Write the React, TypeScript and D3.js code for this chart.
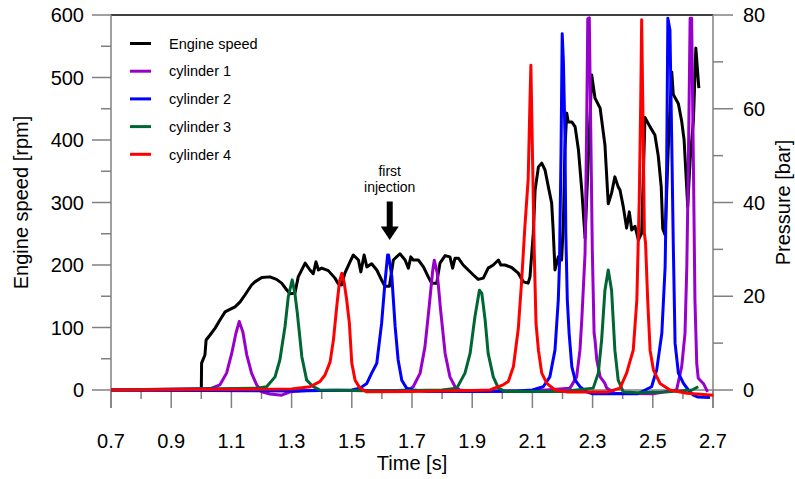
import React from "react";
import * as d3 from "d3";

const engineSpeed: [number, number][] = [
  [0.7, 0], [1.0, 0], [1.001, 43], [1.012, 56], [1.016, 80], [1.029, 88], [1.046, 99], [1.062, 112], [1.079, 125],
  [1.095, 129], [1.112, 133], [1.129, 141], [1.145, 152], [1.167, 168], [1.178, 173], [1.201, 180], [1.228, 181],
  [1.25, 177], [1.267, 171], [1.284, 160], [1.295, 154], [1.311, 155], [1.322, 181], [1.345, 203], [1.361, 192],
  [1.372, 186], [1.381, 205], [1.389, 192], [1.4, 195], [1.422, 191], [1.444, 179], [1.455, 170], [1.466, 168],
  [1.477, 187], [1.494, 205], [1.505, 216], [1.522, 208], [1.53, 189], [1.541, 216], [1.55, 197], [1.566, 202],
  [1.583, 192], [1.599, 176], [1.61, 166], [1.625, 166], [1.638, 208], [1.66, 218], [1.677, 208], [1.688, 195],
  [1.696, 213], [1.704, 208], [1.721, 208], [1.738, 197], [1.754, 181], [1.765, 171], [1.782, 171], [1.793, 203],
  [1.81, 215], [1.826, 213], [1.835, 195], [1.843, 211], [1.854, 211], [1.87, 200], [1.887, 192], [1.904, 184],
  [1.92, 177], [1.937, 179], [1.953, 195], [1.97, 200], [1.987, 208], [1.995, 200], [2.009, 200], [2.031, 196],
  [2.053, 187], [2.07, 173], [2.086, 171], [2.092, 181], [2.103, 251], [2.109, 320], [2.12, 357], [2.131, 363],
  [2.142, 352], [2.153, 325], [2.164, 299], [2.169, 256], [2.175, 192], [2.186, 213], [2.197, 208], [2.203, 267],
  [2.208, 384], [2.214, 443], [2.219, 429], [2.231, 429], [2.242, 421], [2.253, 384], [2.264, 320], [2.275, 243],
  [2.297, 504], [2.308, 467], [2.325, 451], [2.341, 392], [2.352, 298], [2.363, 315], [2.374, 341], [2.385, 325],
  [2.391, 320], [2.402, 293], [2.413, 259], [2.422, 285], [2.43, 256], [2.441, 262], [2.452, 240], [2.463, 251],
  [2.474, 436], [2.491, 421], [2.507, 408], [2.518, 375], [2.528, 325], [2.533, 258], [2.541, 248], [2.552, 395],
  [2.563, 509], [2.568, 473], [2.585, 458], [2.596, 430], [2.604, 400], [2.613, 320], [2.616, 293], [2.624, 368],
  [2.635, 432], [2.643, 547], [2.653, 483],
];

const cylinder1: [number, number][] = [
  [0.7, 0], [1.03, 0.3], [1.062, 1.1], [1.084, 3.6], [1.101, 7.8], [1.115, 12.1], [1.126, 14.6], [1.138, 12.4],
  [1.151, 7.5], [1.167, 3.6], [1.184, 1.1], [1.201, -0.4], [1.228, -0.85], [1.267, -1.1], [1.295, -0.4], [1.35, -0.1],
  [1.5, -0.1], [1.65, -0.1], [1.688, 0], [1.704, 0.7], [1.727, 3.6], [1.743, 9.2], [1.757, 17.8], [1.769, 25.6],
  [1.774, 27.7], [1.784, 24.9], [1.795, 17.1], [1.81, 7.8], [1.826, 2.8], [1.843, 0.7], [1.859, 0], [1.9, -0.3],
  [2.0, -0.3], [2.1, -0.2], [2.225, 0.4], [2.247, 2.8], [2.258, 8.5], [2.264, 14.9], [2.275, 29.2], [2.28, 54.8],
  [2.284, 79.2], [2.289, 79.4], [2.294, 54.8], [2.299, 29.9], [2.305, 12.1], [2.308, 10.7], [2.314, 6.4],
  [2.325, 2.8], [2.341, 1.4], [2.347, 0.4], [2.374, -0.7], [2.5, -0.8], [2.579, 0], [2.596, 5], [2.607, 12.1],
  [2.613, 26.3], [2.618, 47.6], [2.624, 79.3], [2.629, 79.3], [2.635, 47.6], [2.64, 19.2], [2.646, 5.7],
  [2.651, 2.5], [2.668, 1.4], [2.682, -0.4],
];

const cylinder2: [number, number][] = [
  [0.7, 0], [1.3, -0.2], [1.5, 0], [1.527, 0.4], [1.55, 1.4], [1.566, 3.6], [1.583, 5.7], [1.599, 14.2],
  [1.61, 22.8], [1.619, 28.8], [1.622, 28.8], [1.633, 24.2], [1.644, 13.5], [1.654, 6.4], [1.666, 2.1],
  [1.682, 0.4], [1.704, 0], [1.75, -0.3], [1.9, -0.3], [2.05, -0.2], [2.1, 0], [2.136, 0.7], [2.158, 2.8],
  [2.175, 8.5], [2.186, 19.2], [2.19, 27], [2.195, 50], [2.199, 76], [2.203, 70], [2.208, 54.8], [2.211, 33.4],
  [2.216, 19.2], [2.222, 12.1], [2.231, 5], [2.242, 2.1], [2.258, 0.7], [2.28, -0.4], [2.3, -0.8], [2.45, -0.8],
  [2.496, 0.7], [2.513, 4.3], [2.53, 12.1], [2.541, 26.3], [2.546, 47.6], [2.55, 79.3], [2.557, 76.8],
  [2.563, 52.6], [2.568, 31.3], [2.574, 10], [2.585, 3.6], [2.602, 1.4], [2.618, 0], [2.635, -1.1], [2.65, -1.5],
  [2.69, -1.6],
];

const cylinder3: [number, number][] = [
  [0.7, 0], [1.184, 0.4], [1.217, 0.7], [1.245, 2.8], [1.261, 6.4], [1.278, 13.5], [1.289, 19.9], [1.302, 23.5],
  [1.311, 20.6], [1.319, 16.4], [1.334, 7.1], [1.35, 2.1], [1.372, 0.7], [1.394, 0], [1.6, -0.2], [1.8, 0],
  [1.849, 0.4], [1.876, 3.6], [1.893, 7.8], [1.909, 15.6], [1.924, 21.3], [1.932, 20.6], [1.943, 14.9],
  [1.953, 7.8], [1.97, 2.8], [1.987, 0.4], [2.009, -0.3], [2.2, -0.3], [2.302, 0.4], [2.319, 3.6], [2.33, 10.7],
  [2.341, 21.3], [2.352, 25.6], [2.363, 21.3], [2.374, 8.5], [2.385, 2.1], [2.402, -0.4], [2.45, -0.6],
  [2.55, -0.4], [2.63, 0], [2.651, 0.7],
];

const cylinder4: [number, number][] = [
  [0.7, 0], [1.3, 0.2], [1.361, 0.7], [1.394, 1.8], [1.411, 3.2], [1.428, 6], [1.439, 10.7], [1.45, 17.8],
  [1.459, 23.1], [1.467, 24.9], [1.475, 22.8], [1.483, 19.2], [1.492, 14.2], [1.5, 5.7], [1.511, 2.1],
  [1.527, 0.4], [1.55, -0.4], [1.7, -0.3], [1.9, -0.1], [1.959, 0], [1.987, 0.7], [2.003, 1.1], [2.02, 1.8],
  [2.037, 5], [2.053, 13], [2.064, 23], [2.075, 34.8], [2.086, 45], [2.092, 61.9], [2.095, 69.3], [2.101, 47.6],
  [2.106, 29.9], [2.112, 14.2], [2.12, 8.5], [2.131, 3.6], [2.148, 1.4], [2.175, 0], [2.214, -0.4], [2.35, -0.4],
  [2.391, 0.4], [2.413, 3.6], [2.435, 8.5], [2.447, 19.2], [2.455, 40.5], [2.46, 61.9], [2.463, 79], [2.468, 54.8],
  [2.472, 33.4], [2.476, 31.3], [2.483, 19.2], [2.491, 8.5], [2.502, 4.3], [2.524, 1.4], [2.557, 0], [2.613, -0.7],
  [2.701, -1.1],
];

const seriesNames = ["Engine speed", "cylinder 1", "cylinder 2", "cylinder 3", "cylinder 4"];
const seriesColors = ["#000000", "#9900cc", "#0000ff", "#006633", "#ff0000"];

const timeMajorTicks = [0.7, 0.9, 1.1, 1.3, 1.5, 1.7, 1.9, 2.1, 2.3, 2.5, 2.7];
const timeMinorTicks = [0.8, 1.0, 1.2, 1.4, 1.6, 1.8, 2.0, 2.2, 2.4, 2.6];
const speedMajorTicks = [0, 100, 200, 300, 400, 500, 600];
const speedMinorTicks = [50, 150, 250, 350, 450, 550];
const pressureMajorTicks = [0, 20, 40, 60, 80];
const pressureMinorTicks = [10, 30, 50, 70];

const annotationTime = 1.626;
const annotationLines = ["first", "injection"];

const FONT = "'Liberation Sans', Arial, sans-serif";
const AXIS = "#808080";

export default function App() {
  const W = 795, H = 479;
  const x = d3.scaleLinear().domain([0.7, 2.7]).range([111, 713]);
  const yL = d3.scaleLinear().domain([0, 600]).range([390, 15]);
  const yR = d3.scaleLinear().domain([0, 80]).range([390, 15]);

  const lineL = d3.line<[number, number]>().x((d) => x(d[0])).y((d) => yL(d[1]));
  const lineR = d3.line<[number, number]>().x((d) => x(d[0])).y((d) => yR(d[1]));

  const pressureSeries = [cylinder1, cylinder2, cylinder3, cylinder4];
  const [x0, x1] = x.range();
  const yBottom = 390;

  const ax = x(annotationTime);

  return (
    <svg width={W} height={H} style={{ position: "absolute", left: 0, top: 0, background: "#fff" }} fontFamily={FONT}>
      {/* frame */}
      <line x1={x0} x2={x1} y1={15} y2={15} stroke="#000" strokeWidth={1.5} />
      <line x1={x0} x2={x0} y1={15} y2={408} stroke={AXIS} strokeWidth={1.5} />
      <line x1={x1} x2={x1} y1={15} y2={408} stroke={AXIS} strokeWidth={1.5} />
      <line x1={x0} x2={x1} y1={yBottom} y2={yBottom} stroke={AXIS} strokeWidth={1.5} />

      {/* left ticks */}
      {speedMajorTicks.map((v) => (
        <g key={"lm" + v}>
          <line x1={x0 - 19} x2={x0} y1={yL(v)} y2={yL(v)} stroke={AXIS} strokeWidth={1.5} />
          <text x={84} y={yL(v)} dy="0.36em" textAnchor="end" fontSize={20} fill="#000">{v}</text>
        </g>
      ))}
      {speedMinorTicks.map((v) => (
        <line key={"ln" + v} x1={x0 - 10} x2={x0} y1={yL(v)} y2={yL(v)} stroke={AXIS} strokeWidth={1.5} />
      ))}

      {/* right ticks */}
      {pressureMajorTicks.map((v) => (
        <g key={"rm" + v}>
          <line x1={x1} x2={x1 + 20} y1={yR(v)} y2={yR(v)} stroke={AXIS} strokeWidth={1.5} />
          <text x={743} y={yR(v)} dy="0.36em" textAnchor="start" fontSize={20} fill="#000">{v}</text>
        </g>
      ))}
      {pressureMinorTicks.map((v) => (
        <line key={"rn" + v} x1={x1} x2={x1 + 10} y1={yR(v)} y2={yR(v)} stroke={AXIS} strokeWidth={1.5} />
      ))}

      {/* bottom ticks */}
      {timeMajorTicks.map((v) => (
        <g key={"bm" + v}>
          <line x1={x(v)} x2={x(v)} y1={yBottom} y2={408} stroke={AXIS} strokeWidth={1.5} />
          <text x={x(v)} y={448} textAnchor="middle" fontSize={20} fill="#000">{v.toFixed(1)}</text>
        </g>
      ))}
      {timeMinorTicks.map((v) => (
        <line key={"bn" + v} x1={x(v)} x2={x(v)} y1={yBottom} y2={399} stroke={AXIS} strokeWidth={1.5} />
      ))}

      {/* axis titles */}
      <text x={412} y={470} textAnchor="middle" fontSize={20} fill="#000">Time [s]</text>
      <text transform={`translate(28,${(15 + 390) / 2}) rotate(-90)`} textAnchor="middle" fontSize={20} fill="#000">
        Engine speed [rpm]
      </text>
      <text transform={`translate(790,${(15 + 390) / 2}) rotate(-90)`} textAnchor="middle" fontSize={20} fill="#000">
        Pressure [bar]
      </text>

      {/* data */}
      <path d={lineL(engineSpeed) || ""} fill="none" stroke={seriesColors[0]} strokeWidth={3} strokeLinejoin="round" />
      {pressureSeries.map((s, i) => (
        <path key={"p" + i} d={lineR(s) || ""} fill="none" stroke={seriesColors[i + 1]} strokeWidth={3} strokeLinejoin="round" />
      ))}

      {/* legend */}
      {seriesNames.map((n, i) => {
        const yy = 43.5 + i * 27.7;
        return (
          <g key={"lg" + i}>
            <line x1={130} x2={151} y1={yy} y2={yy} stroke={seriesColors[i]} strokeWidth={3} />
            <text x={169} y={yy} dy="0.36em" fontSize={14.5} fill="#000">{n}</text>
          </g>
        );
      })}

      {/* annotation */}
      {annotationLines.map((l, i) => (
        <text key={l} x={ax} y={175.8 + i * 16} textAnchor="middle" fontSize={14} fill="#000">{l}</text>
      ))}
      <rect x={ax - 3} y={201.5} width={6} height={26} fill="#000" />
      <path d={`M${ax - 9},${226.5} L${ax + 9},${226.5} L${ax},${240} Z`} fill="#000" />
    </svg>
  );
}
